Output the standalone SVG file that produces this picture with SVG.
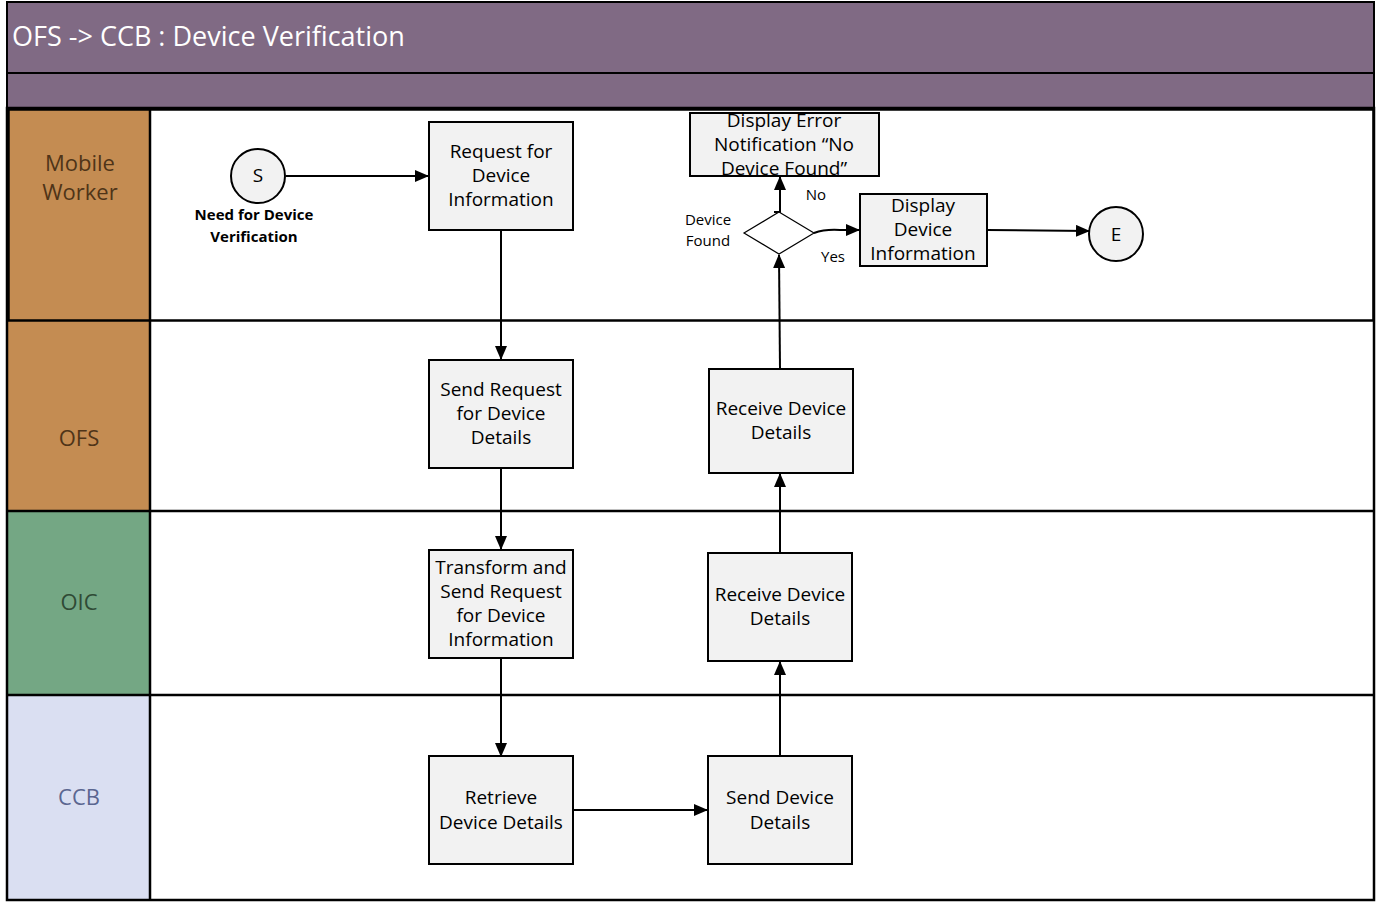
<svg xmlns="http://www.w3.org/2000/svg" width="1381" height="902" viewBox="0 0 1381 902">
<style>
.box{fill:#f2f2f2;stroke:#000;stroke-width:2}
.t{font-family:"Open Sans","Noto Sans",sans-serif;font-size:19px;text-anchor:middle;fill:#000}
.lane{font-family:"Open Sans","Noto Sans",sans-serif;font-size:22px;text-anchor:middle}
.s{font-family:"Open Sans","Noto Sans",sans-serif;font-size:15px;text-anchor:middle;fill:#000}
.c{fill:none;stroke:#000;stroke-width:2;marker-end:url(#a)}
.ln{stroke:#000;stroke-width:2.5;fill:none}
</style>
<defs><marker id="a" markerWidth="14" markerHeight="12" refX="13" refY="6" orient="auto" markerUnits="userSpaceOnUse"><path d="M0,0 L14,6 L0,12 z" fill="#000"/></marker></defs>
<rect width="1381" height="902" fill="#fff"/>
<g id="header">
<rect x="7" y="2" width="1367" height="71" fill="#806a84" stroke="#000" stroke-width="2"/>
<rect x="7" y="73" width="1367" height="35" fill="#806a84" stroke="#000" stroke-width="2"/>
<text x="12" y="46" font-family="Open Sans,Noto Sans,sans-serif" font-size="27" fill="#fff">OFS -&gt; CCB : Device Verification</text>
</g>
<g id="lanes">
<rect x="7" y="108" width="143" height="212" fill="#c48c52"/>
<rect x="7" y="320" width="143" height="191" fill="#c48c52"/>
<rect x="7" y="511" width="143" height="184" fill="#74a784"/>
<rect x="7" y="695" width="143" height="205" fill="#dadff2"/>
<rect x="8.5" y="109.5" width="1365" height="211" class="ln" stroke-width="3"/>
<line x1="150" y1="108" x2="150" y2="900" class="ln"/>
<line x1="7" y1="511" x2="1374" y2="511" class="ln"/>
<line x1="7" y1="695" x2="1374" y2="695" class="ln"/>
<rect x="7" y="108" width="1367" height="792" class="ln"/>
<text class="lane" fill="#4f3418" x="80" y="171">Mobile</text>
<text class="lane" fill="#4f3418" x="80" y="200">Worker</text>
<text class="lane" fill="#4f3418" x="79" y="446">OFS</text>
<text class="lane" fill="#2f4a35" x="79" y="610">OIC</text>
<text class="lane" fill="#5a6690" x="79" y="805">CCB</text>
</g>
<g id="connectors">
<line class="c" x1="286" y1="176" x2="428" y2="176"/>
<line class="c" x1="501" y1="231" x2="501" y2="359"/>
<line class="c" x1="501" y1="469" x2="501" y2="549"/>
<line class="c" x1="501" y1="658" x2="501" y2="756"/>
<line class="c" x1="573" y1="810" x2="707" y2="810"/>
<line class="c" x1="780" y1="756" x2="780" y2="662"/>
<line class="c" x1="780" y1="553" x2="780" y2="474"/>
<line class="c" x1="780" y1="369" x2="779" y2="255"/>
<path class="c" d="M774,212 L780,212 L780,177"/>
<path class="c" d="M814,233 Q825,229 840,230 L859,230"/>
<line class="c" x1="987" y1="230" x2="1089" y2="231"/>
<text class="s" x="816" y="200">No</text>
<text class="s" x="833" y="262">Yes</text>
</g>
<g id="start"><circle cx="258" cy="176" r="27" class="box"/><text class="t" x="258" y="182">S</text>
<text class="s" font-weight="bold" x="254" y="220">Need for Device</text><text class="s" font-weight="bold" x="254" y="242">Verification</text></g>
<g id="req"><rect class="box" x="429" y="122" width="144" height="108"/><text class="t" x="501" y="158">Request for</text><text class="t" x="501" y="182">Device</text><text class="t" x="501" y="206">Information</text></g>
<g id="err"><rect class="box" x="690" y="113" width="189" height="63"/><text class="t" x="784" y="127">Display Error</text><text class="t" x="784" y="151">Notification “No</text><text class="t" x="784" y="175">Device Found”</text></g>
<g id="dec"><polygon points="779,212 814,233 779,254 744,233" fill="#fff" stroke="#000" stroke-width="1.2"/><text class="s" x="708" y="225">Device</text><text class="s" x="708" y="246">Found</text></g>
<g id="disp"><rect class="box" x="860" y="194" width="127" height="72"/><text class="t" x="923" y="212">Display</text><text class="t" x="923" y="236">Device</text><text class="t" x="923" y="260">Information</text></g>
<g id="end"><circle cx="1116" cy="234" r="27" class="box"/><text class="t" x="1116" y="241">E</text></g>
<g id="send"><rect class="box" x="429" y="360" width="144" height="108"/><text class="t" x="501" y="396">Send Request</text><text class="t" x="501" y="420">for Device</text><text class="t" x="501" y="444">Details</text></g>
<g id="recvofs"><rect class="box" x="709" y="369" width="144" height="104"/><text class="t" x="781" y="415">Receive Device</text><text class="t" x="781" y="439">Details</text></g>
<g id="trans"><rect class="box" x="429" y="550" width="144" height="108"/><text class="t" x="501" y="574">Transform and</text><text class="t" x="501" y="598">Send Request</text><text class="t" x="501" y="622">for Device</text><text class="t" x="501" y="646">Information</text></g>
<g id="recvoic"><rect class="box" x="708" y="553" width="144" height="108"/><text class="t" x="780" y="601">Receive Device</text><text class="t" x="780" y="625">Details</text></g>
<g id="retr"><rect class="box" x="429" y="756" width="144" height="108"/><text class="t" x="501" y="804">Retrieve</text><text class="t" x="501" y="829">Device Details</text></g>
<g id="sendccb"><rect class="box" x="708" y="756" width="144" height="108"/><text class="t" x="780" y="804">Send Device</text><text class="t" x="780" y="829">Details</text></g>
</svg>
